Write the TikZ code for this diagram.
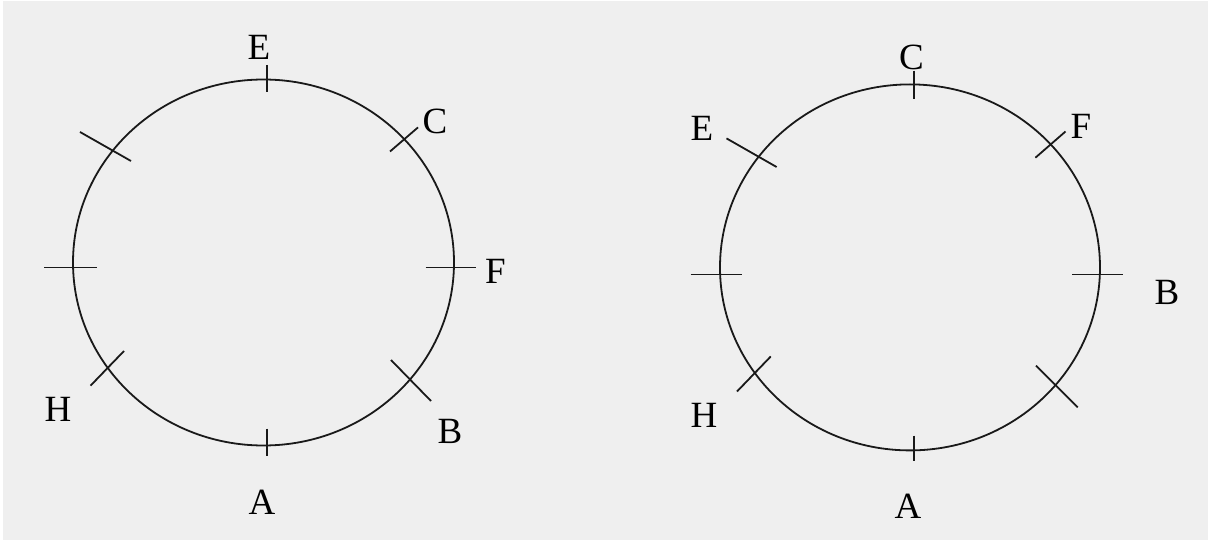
\documentclass[tikz,border=0pt]{standalone}
\usepackage{fontspec}
\setmainfont{Liberation Serif}
\definecolor{bg}{HTML}{EFEFEF}
\tikzset{
  curve/.style={line width=1.8pt, black!90},
  tick/.style={line width=1.8pt, black!90},
  lbl/.style={inner sep=0pt, font=\fontsize{37}{37}\selectfont, text height=24.5pt, text depth=0pt}
}
\begin{document}
\begin{tikzpicture}[x=1pt,y=-1pt]
\fill[white] (0,0) rectangle (1208,540);
\fill[bg] (3,1) rectangle (1208,540);
\useasboundingbox (0,0) rectangle (1208,540);
% left circle
\draw[curve] (263.5,262.5) ellipse [x radius=190.5, y radius=183];
\draw[tick] (267,65) -- (267,92);
\draw[tick] (390,151.5) -- (418,127.4);
\draw[tick] (80,132) -- (131,161);
\draw[tick] (44,267.5) -- (97,267.5);
\draw[tick] (425.6,267.5) -- (475.7,267.5);
\draw[tick] (391,360) -- (431,401);
\draw[tick] (90.5,385.7) -- (124,351);
\draw[tick] (267,428.7) -- (267,456);
\node[lbl] (lE) at (259,47) {E};
\node[lbl] (lC) at (435,121) {C};
\node[lbl] (lF) at (495.5,271) {F};
\node[lbl] (lB) at (450,431) {B};
\node[lbl] (lA) at (262,502) {A};
\node[lbl] (lH) at (58,409) {H};
% right circle
\draw[curve] (910,267.4) ellipse [x radius=190, y radius=183];
\draw[tick] (913.7,70.6) -- (913.7,98.8);
\draw[tick] (1035.4,157.7) -- (1065.5,131.5);
\draw[tick] (726.5,138.4) -- (776.6,167);
\draw[tick] (690.7,274.5) -- (741.5,274.5);
\draw[tick] (1072,274.5) -- (1123,274.5);
\draw[tick] (1036,365.7) -- (1077.8,407.4);
\draw[tick] (737,391.5) -- (770.8,356.4);
\draw[tick] (913.7,435.6) -- (913.7,461.4);
\node[lbl] (rC) at (911.5,57.5) {C};
\node[lbl] (rE) at (702,128) {E};
\node[lbl] (rF) at (1081,126.5) {F};
\node[lbl] (rB) at (1167,292) {B};
\node[lbl] (rH) at (704,415) {H};
\node[lbl] (rA) at (908,506.5) {A};
\end{tikzpicture}
\end{document}
